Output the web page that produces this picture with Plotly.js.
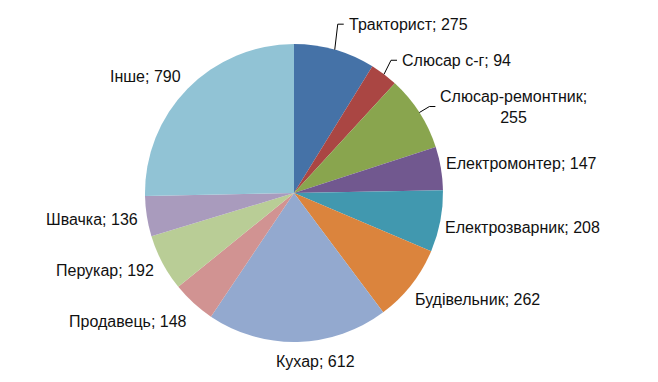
<!DOCTYPE html>
<html>
<head>
<meta charset="utf-8">
<script src="https://cdn.plot.ly/plotly-3.0.1.min.js"></script>
<style>html,body{margin:0;padding:0;background:#fff;}#chart{width:658px;height:382px;}</style>
</head>
<body>
<div id="chart"></div>
<script>
var categories = ["Тракторист", "Слюсар с-г", "Слюсар-ремонтник", "Електромонтер", "Електрозварник", "Будівельник", "Кухар", "Продавець", "Перукар", "Швачка", "Інше"];
var values = [275, 94, 255, 147, 208, 262, 612, 148, 192, 136, 790];
var colors = ["#4572A7", "#AA4643", "#89A54E", "#71588F", "#4198AF", "#DB843D", "#93A9CF", "#D19392", "#B9CD96", "#A99BBD", "#91C3D5"];

// label layout config (not data)
var labelBreaks = {2: true};                                  // wrap "Слюсар-ремонтник;" onto two lines
var leaderOffsets = {0: [12, -25.5], 1: [16, -14], 2: [19, -6]}; // label offsets (px) for labels with leader lines
var labelNudges = {3: [-4, -2], 4: [-4, 3], 5: [-4, 4], 6: [18, 3], 7: [0, 6]};

var W = 658, H = 382;
var margin = {l: 0, r: 0, t: 44, b: 40};
var domainX = [0, 0.8936];
var plotW = W - margin.l - margin.r, plotH = H - margin.t - margin.b;
var cxPx = margin.l + plotW * (domainX[0] + domainX[1]) / 2;
var cyPx = margin.t + plotH / 2;
var R = Math.min(plotW * (domainX[1] - domainX[0]), plotH) / 2;

function toPaperX(px) { return (px - margin.l) / plotW; }
function toPaperY(py) { return (H - margin.b - py) / plotH; }

var font = {family: "Liberation Sans, Arial, sans-serif", size: 16, color: "#111"};
var total = values.reduce(function (a, b) { return a + b; }, 0);
var annotations = [];
var shapes = [];
var cum = 0;
for (var i = 0; i < values.length; i++) {
  var mid = (cum + values[i] / 2) / total * 2 * Math.PI;
  cum += values[i];
  var s = Math.sin(mid), c = Math.cos(mid);
  var txt = categories[i] + ";" + (labelBreaks[i] ? "<br>" : " ") + values[i];
  if (leaderOffsets[i]) {
    var ex = cxPx + R * s, ey = cyPx - R * c;
    var lx = ex + leaderOffsets[i][0], ly = ey + leaderOffsets[i][1];
    var gap = 3, hlen = 6;
    shapes.push({
      type: "path", xref: "paper", yref: "paper",
      path: "M" + toPaperX(ex) + "," + toPaperY(ey) +
            " L" + toPaperX(lx - gap - hlen) + "," + toPaperY(ly) +
            " L" + toPaperX(lx - gap) + "," + toPaperY(ly),
      line: {color: "#000", width: 1}
    });
    annotations.push({
      xref: "paper", yref: "paper",
      x: toPaperX(lx), y: toPaperY(ly),
      text: txt, font: font, align: "center", showarrow: false,
      xanchor: "left", yanchor: "middle"
    });
  } else {
    var d = R + 7;
    var n = labelNudges[i] || [0, 0];
    annotations.push({
      xref: "paper", yref: "paper",
      x: toPaperX(cxPx + d * s), y: toPaperY(cyPx - d * c),
      text: txt, font: font, showarrow: false,
      xanchor: s > 0.2 ? "left" : (s < -0.2 ? "right" : "center"),
      yanchor: "middle", xshift: n[0], yshift: c * 10 - n[1]
    });
  }
}

var trace = {
  type: "pie",
  labels: categories,
  values: values,
  sort: false,
  direction: "clockwise",
  rotation: 0,
  marker: {colors: colors, line: {color: "#ffffff", width: 0}},
  textinfo: "none",
  hoverinfo: "label+value",
  showlegend: false,
  domain: {x: domainX, y: [0, 1]}
};

var layout = {
  width: W,
  height: H,
  margin: margin,
  paper_bgcolor: "#ffffff",
  showlegend: false,
  annotations: annotations,
  shapes: shapes
};

Plotly.newPlot("chart", [trace], layout, {displayModeBar: false, staticPlot: true});
</script>
</body>
</html>
